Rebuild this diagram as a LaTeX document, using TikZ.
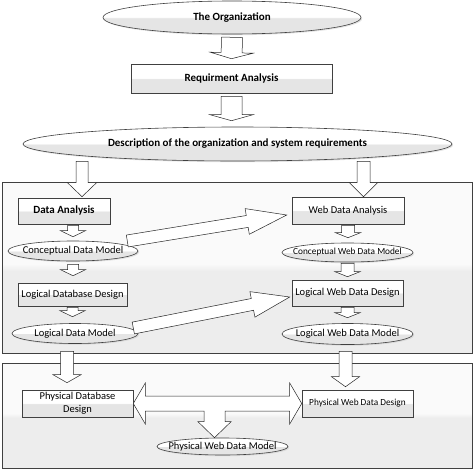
\documentclass[tikz,border=0pt]{standalone}
\usepackage{fontspec}
\setmainfont{Carlito}
\usetikzlibrary{shapes.geometric,calc,shadows}
\pgfdeclareverticalshading{twotone}{100bp}{color(0bp)=(black!10); color(49bp)=(black!10); color(51bp)=(white); color(100bp)=(white)}
\pgfdeclareverticalshading{paneltone}{100bp}{color(0bp)=(black!7); color(49bp)=(black!7); color(51bp)=(black!2); color(100bp)=(black!2)}
\newcommand{\ctext}[1]{\makebox[0pt]{#1}}
\tikzset{
  box/.style={draw=black!75, line width=0.6pt, shading=twotone, inner sep=0pt,
    drop shadow={shadow xshift=1.2pt, shadow yshift=-1.2pt, fill=black!22},
    font=\fontsize{10.5}{12.6}\selectfont},
  ell/.style={box, ellipse},
  tb/.style={font=\fontsize{11}{13}\selectfont\bfseries},
  sm/.style={font=\fontsize{9.3}{11}\selectfont},
  panel/.style={draw=black!75, line width=0.6pt, shading=paneltone, inner sep=0pt},
  blk/.style={draw=black!85, fill=white, line width=0.5pt, line join=miter},
  fat/.style n args={3}{to path={let \p1=(\tikztostart), \p2=(\tikztotarget), \p3=($(\p2)!#3!(\p1)$) in
    ($(\p1)!#1!90:(\p2)$) -- ($(\p3)!#1!90:(\p2)$) -- ($(\p3)!#2!90:(\p2)$) -- (\p2)
    -- ($(\p3)!#2!-90:(\p2)$) -- ($(\p3)!#1!-90:(\p2)$) -- ($(\p1)!#1!-90:(\p2)$) -- cycle}}
}
\begin{document}
\begin{tikzpicture}[x=1pt,y=-1pt]
  \useasboundingbox (0,0) rectangle (474,469);
  % panels
  \node[panel, minimum width=470pt, minimum height=171pt] (top) at (237,267.5) {};
  \node[panel, minimum width=470pt, minimum height=105pt] (bot) at (237,415.5) {};
  % top chain
  \node[ell, tb, minimum width=258pt, minimum height=33pt] (org) at (232,17.5) {\ctext{The Organization}};
  \node[box, tb, minimum width=201pt, minimum height=29pt] (req) at (231.5,78.5) {Requirment Analysis};
  \node[ell, tb, minimum width=429pt, minimum height=34pt] (desc) at (237.5,144) {\ctext{Description of the organization and system requirements}};
  % database side
  \node[box, tb, minimum width=92pt, minimum height=26pt] (da) at (64,211) {Data Analysis};
  \node[ell, minimum width=130pt, minimum height=20pt] (cdm) at (73,251) {\ctext{Conceptual Data Model}};
  \node[box, minimum width=109pt, minimum height=23pt] (ldd) at (72.5,294.5) {Logical Database Design};
  \node[ell, minimum width=126pt, minimum height=20pt] (ldm) at (75,333.5) {\ctext{Logical Data Model}};
  % web side
  \node[box, minimum width=112pt, minimum height=27pt] (wda) at (348,210.5) {Web Data Analysis};
  \node[ell, sm, minimum width=131pt, minimum height=19pt] (cwm) at (347.5,252.5) {\ctext{Conceptual Web Data Model}};
  \node[box, minimum width=111pt, minimum height=26pt] (lwd) at (347.5,293) {Logical Web Data Design};
  \node[ell, minimum width=131pt, minimum height=21pt] (lwm) at (347.5,334) {\ctext{Logical Web Data Model}};
  % physical
  \node[box, align=center, minimum width=111pt, minimum height=27pt] (pdd) at (77.5,403.5) {Physical Database\\Design};
  \node[box, sm, minimum width=111pt, minimum height=27pt] (pwd) at (357.5,403.5) {Physical Web Data Design};
  \node[ell, minimum width=131pt, minimum height=17pt] (pwm) at (222.5,446.5) {\ctext{Physical Web Data Model}};
  % block arrows
  \draw[blk] ([yshift=-3pt]org.south) to[fat={10.5pt}{21.5pt}{6pt}] ([yshift=5pt]req.north);
  \draw[blk] ([yshift=-3pt]req.south) to[fat={10.5pt}{21.5pt}{6pt}] ([yshift=6pt]req.south |- desc.north);
  \draw[blk] ([xshift=18pt]da.north |- desc.south) to[fat={6pt}{14.5pt}{14pt}] ([xshift=18pt,yshift=1pt]da.north);
  \draw[blk] ([xshift=15.5pt]wda.north |- desc.south) to[fat={6.5pt}{14pt}{14pt}] ([xshift=15.5pt]wda.north);
  \draw[blk] ([yshift=-1pt]cdm.north |- da.south) to[fat={5.5pt}{12.5pt}{6pt}] ([yshift=4pt]cdm.north);
  \draw[blk] ([yshift=-3pt]cdm.south) to[fat={5.5pt}{12.5pt}{6pt}] ([yshift=7pt]cdm.south |- ldd.north);
  \draw[blk] ([yshift=-1pt]ldd.south) to[fat={5.5pt}{12.5pt}{6pt}] ([yshift=6.5pt]ldd.south |- ldm.north);
  \draw[blk] ([yshift=-1pt]wda.south) to[fat={6.5pt}{12.5pt}{5pt}] ([yshift=5pt]wda.south |- cwm.north);
  \draw[blk] ([yshift=-1pt]cwm.south) to[fat={6.5pt}{12.5pt}{5pt}] ([yshift=3pt]lwd.north);
  \draw[blk] ([yshift=-1pt]lwd.south) to[fat={6.5pt}{12.5pt}{5pt}] ([yshift=5.5pt]lwd.south |- lwm.north);
  \draw[blk] ([xshift=-10.5pt,yshift=2pt]pdd.north |- top.south) to[fat={6.5pt}{14pt}{8pt}] ([xshift=-10.5pt,yshift=7pt]pdd.north);
  \draw[blk] ([xshift=-12pt,yshift=2pt]pwd.north |- top.south) to[fat={6.5pt}{14pt}{10pt}] ([xshift=-12pt,yshift=3pt]pwd.north);
  \draw[blk] ([xshift=-11pt,yshift=10pt]cdm.east) to[fat={6pt}{13pt}{40pt}] ([xshift=-5pt,yshift=-4.5pt]wda.west);
  \draw[blk] ([xshift=-5pt,yshift=5.5pt]ldm.east) to[fat={6pt}{13pt}{38pt}] ([xshift=-2pt,yshift=-4pt]lwd.west);
  \draw[blk] let \p1=(pdd.east), \p2=(pwd.west), \p3=([xshift=-8pt]pwm.north) in
    (\p1) -- (\x1+12pt,\y1+20.5pt) -- (\x1+12pt,\y1+7.5pt) -- (\x2-12pt,\y1+7.5pt)
    -- (\x2-12pt,\y2+20.5pt) -- (\p2) -- (\x2-12pt,\y2-20.5pt) -- (\x2-12pt,\y1-7.5pt)
    -- (\x3+10.5pt,\y1-7.5pt) -- (\x3+10.5pt,\y3+16pt) -- (\x3+16.5pt,\y3+16pt) -- (\p3)
    -- (\x3-16.5pt,\y3+16pt) -- (\x3-10.5pt,\y3+16pt) -- (\x3-10.5pt,\y1-7.5pt)
    -- (\x1+12pt,\y1-7.5pt) -- (\x1+12pt,\y1-20.5pt) -- cycle;
\end{tikzpicture}
\end{document}
